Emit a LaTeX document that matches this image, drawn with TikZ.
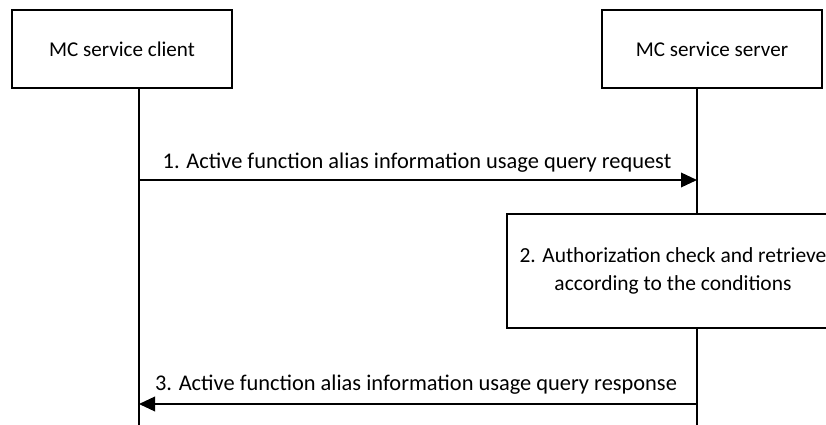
\documentclass[tikz,border=0pt]{standalone}
\usepackage{fontspec}
\setmainfont{Carlito}
\usetikzlibrary{arrows.meta}
\begin{document}
\begin{tikzpicture}[x=0.75pt,y=-0.75pt,
  ent/.style={draw,line width=0.9pt,minimum width=165pt,minimum height=58.5pt,inner sep=0pt,font=\fontsize{15.8}{18}\selectfont},
  life/.style={line width=0.9pt},
  msg/.style={line width=1.1pt,-{Triangle[length=12pt,width=11pt]}},
  lbl/.style={font=\fontsize{16.8}{18}\selectfont,inner sep=0pt},
  procbox/.style={draw,line width=0.9pt,minimum width=249pt,minimum height=85.5pt,inner sep=0pt,align=center,font=\fontsize{16.1}{20.5}\selectfont}]
\useasboundingbox (0,0) rectangle (826,425);
\clip (0,0) rectangle (826,425);
\fill[white] (0,0) rectangle (826,425);
\node[ent] (client) at (122,49) {MC service client};
\node[ent] (server) at (712,49) {MC service server};
\coordinate (cend) at (139,425);
\coordinate (send) at (697,425);
\coordinate (ctop) at (139,88);
\coordinate (stop) at (697,88);
\node[procbox] (check) at (673,271) {2. Authorization check and retrieve\\according to the conditions};
\draw[life] (ctop) -- (cend);
\draw[life] (stop) -- (check.north -| stop);
\draw[life] (check.south -| stop) -- (send);
\coordinate (m1s) at (139,180);
\coordinate (m1e) at (697,180);
\coordinate (m3s) at (697,404);
\coordinate (m3e) at (139,404);
\draw[msg] (m1s) -- (m1e);
\node[lbl] (l1) at (417,163) {1. Active function alias information usage query request};
\draw[msg] (m3s) -- (m3e);
\node[lbl] (l3) at (416,385) {3. Active function alias information usage query response};
\end{tikzpicture}
\end{document}
